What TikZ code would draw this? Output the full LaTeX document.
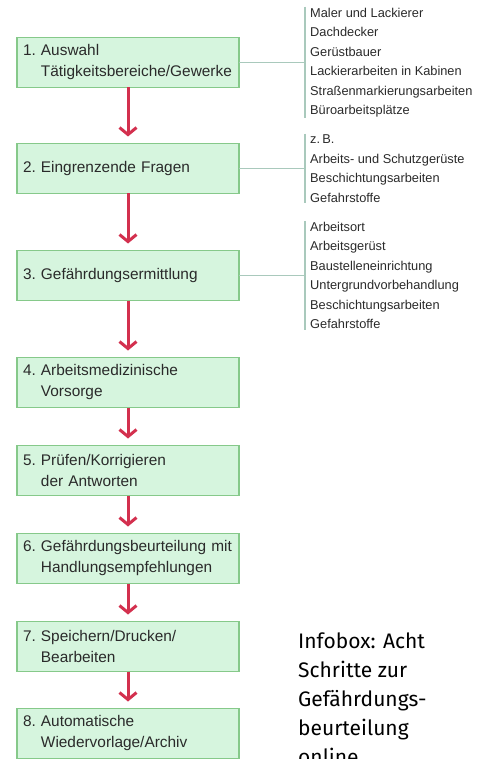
\documentclass[tikz,border=0pt]{standalone}
\usepackage{fontspec}
\setmainfont{Liberation Sans}
\newfontfamily\infofont{Fira Sans}
\usepackage{xcolor}
\usepackage{tikz}
\usetikzlibrary{positioning, arrows.meta}

\definecolor{boxfill}{HTML}{D6F5DE}
\definecolor{boxline}{HTML}{86C98A}
\definecolor{arrowred}{HTML}{D3304E}
\definecolor{linkgray}{HTML}{A9C9BC}
\definecolor{textgray}{HTML}{2A2A2A}

\begin{document}
\begin{tikzpicture}
						[
						   x = 1pt, y = -1pt,
						   stepbox/.style = {rectangle, draw = boxline, fill = boxfill, line width = 1.6pt,
						                     minimum width = 222pt, minimum height = 50pt, inner xsep = 6pt,
						                     outer sep = 0pt, text width = 210pt, align = left, text = textgray,
						                     font = \fontsize{15.4}{21}\selectfont},
						   liste/.style = {inner xsep = 5pt, inner ysep = 1pt, align = left, text = textgray,
						                   font = \fontsize{12.8}{19.5}\selectfont},
						   pfeil/.style = {draw = arrowred, line width = 3pt, shorten > = 7pt,
						                   -{Straight Barb[length = 7pt, width = 17pt]}},
						   link/.style = {draw = linkgray, line width = 1.2pt},
						]
						\clip (0,0) rectangle (491,759);
						% Schritte
						\node [stepbox] (b1) at (128,62.5) {1.~Auswahl\\\phantom{1.~}Tätigkeitsbereiche/Gewerke};
						\node [stepbox, below = 56pt of b1] (b2) {2.~Eingrenzende Fragen};
						\node [stepbox, below = 57pt of b2] (b3) {3.~Gefährdungsermittlung};
						\node [stepbox, below = 57pt of b3] (b4) {4.~Arbeitsmedizinische\\\phantom{4.~}Vorsorge};
						\node [stepbox, below = 38pt of b4] (b5) {5.~Prüfen/Korrigieren\\\phantom{5.~}der Antworten};
						\node [stepbox, below = 38pt of b5] (b6) {6.~Gefährdungsbeurteilung mit\\\phantom{6.~}Handlungsempfehlungen};
						\node [stepbox, below = 38pt of b6] (b7) {7.~Speichern/Drucken/\\\phantom{7.~}Bearbeiten};
						\node [stepbox, below = 37pt of b7] (b8) {8.~Automatische\\\phantom{8.~}Wiedervorlage/Archiv};
						\foreach \a/\b in {b1/b2, b2/b3, b3/b4, b4/b5, b5/b6, b6/b7, b7/b8}
							\draw [pfeil] (\a.south) -- (\b.north);
						% Listen
						\node [liste, right = 66pt of b1] (l1) {Maler und Lackierer\\Dachdecker\\Gerüstbauer\\Lackierarbeiten in Kabinen\\Straßenmarkierungsarbeiten\\Büroarbeitsplätze};
						\node [liste, right = 66pt of b2] (l2) {z.\,B.\\Arbeits- und Schutzgerüste\\Beschichtungsarbeiten\\Gefahrstoffe};
						\node [liste, right = 66pt of b3] (l3) {Arbeitsort\\Arbeitsgerüst\\Baustelleneinrichtung\\Untergrundvorbehandlung\\Beschichtungsarbeiten\\Gefahrstoffe};
						\foreach \b/\l in {b1/l1, b2/l2, b3/l3} {
							\draw [link] (\b.east) -- (\l.west);
							\draw [link] (\l.north west) -- (\l.south west);
						}
						% Infobox
						\node [anchor = north west, inner sep = 0pt, align = left, text = black,
						       font = \infofont\fontsize{21}{29}\selectfont] (info) at (298,633)
							{Infobox: Acht\\Schritte zur\\Gefährdungs-\\beurteilung\\online};
					\end{tikzpicture}
\end{document}
